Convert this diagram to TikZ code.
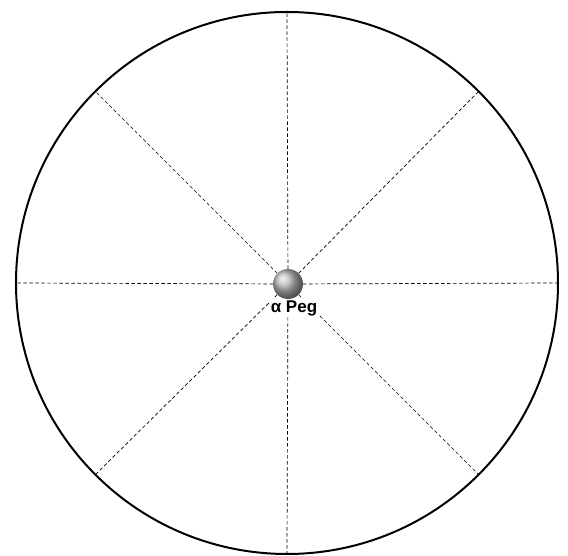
\documentclass[tikz,border=0pt]{standalone}
\usepackage{fontspec}
\setsansfont{Liberation Sans}
\usetikzlibrary{positioning}
\begin{document}
\begin{tikzpicture}[x=1pt, y=1pt,
	rim/.style={line width=2pt},
	spoke/.style={dashed, dash pattern=on 3.5pt off 2.5pt, line width=0.7pt},
	peg node/.style={circle, minimum size=30pt, inner sep=0pt, shading=ball, ball color=gray!55},
	label node/.style={font=\sffamily\bfseries\fontsize{17}{19}\selectfont, inner sep=1pt, fill=white}
	]
	\useasboundingbox (-287,-273) rectangle (281,283);
	\def\R{271}
	\draw[rim] (0,0) circle (\R);
	\foreach \a in {0,45,...,315}
		\coordinate (P\a) at (\a:\R);
	\node[peg node] (peg) at (1,-1) {};
	\foreach \a in {0,45,...,315}
		\draw[spoke] (peg) -- (P\a);
	\node[label node, below=0pt of peg, xshift=6pt] (lbl) {α Peg};
\end{tikzpicture}
\end{document}
